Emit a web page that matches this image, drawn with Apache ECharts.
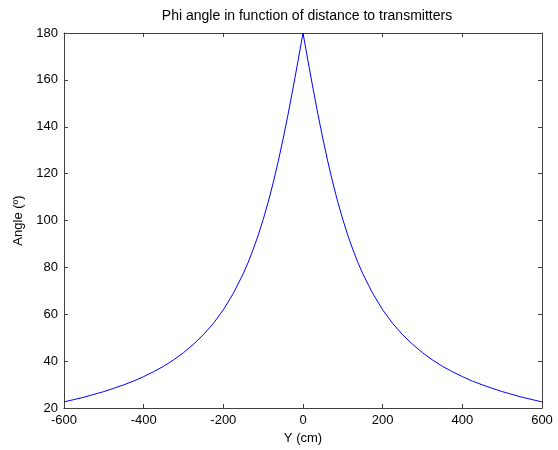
<!DOCTYPE html>
<html>
<head>
<meta charset="utf-8">
<script src="https://cdn.jsdelivr.net/npm/echarts@6/dist/echarts.min.js"></script>
<style>
  html, body { margin: 0; padding: 0; background: #fff; }
  #chart { width: 558px; height: 450px; }
</style>
</head>
<body>
<div id="chart"></div>
<script>
// distance to transmitters (cm) and phi angle (deg)
const distances = [
  -600, -575, -550, -525, -500, -475, -450, -425, -400, -375, -350, -325, -300,
  -275, -250, -225, -200, -175, -150, -137.5, -125, -112.5, -100, -87.5, -75,
  -62.5, -50, -37.5, -25, -12.5, 0, 12.5, 25, 37.5, 50, 62.5, 75, 87.5, 100,
  112.5, 125, 137.5, 150, 175, 200, 225, 250, 275, 300, 325, 350, 375, 400,
  425, 450, 475, 500, 525, 550, 575, 600
]
const angles = [
  22.6, 23.6, 24.6, 25.8, 27.0, 28.4, 29.9, 31.5, 33.4, 35.5, 37.8, 40.5, 43.6,
  47.2, 51.3, 56.1, 61.9, 68.9, 77.3, 82.2, 87.7, 93.7, 100.4, 107.8, 116.0,
  125.0, 134.8, 145.3, 156.5, 168.1, 180, 168.1, 156.5, 145.3, 134.8, 125.0, 116.0, 107.8, 100.4,
  93.7, 87.7, 82.2, 77.3, 68.9, 61.9, 56.1, 51.3, 47.2, 43.6, 40.5, 37.8, 35.5, 33.4,
  31.5, 29.9, 28.4, 27.0, 25.8, 24.6, 23.6, 22.6
]

const chart = echarts.init(document.getElementById('chart'))

const font = 'Arial, "Liberation Sans", sans-serif'
const axisColor = '#404040'

const frameAxis = {
  axisLine: { show: true, onZero: false, lineStyle: { color: axisColor, width: 1 } },
  axisTick: { show: true, inside: true, length: 4, lineStyle: { color: axisColor } },
  splitLine: { show: false }
}

chart.setOption({
  animation: false,
  title: {
    text: 'Phi angle in function of distance to transmitters',
    left: 302,
    top: 4,
    textAlign: 'center',
    textStyle: { fontFamily: font, fontSize: 14, fontWeight: 'normal', color: '#000' }
  },
  grid: { left: 64, right: 16, top: 33, bottom: 40 },
  xAxis: [
    {
      type: 'value', min: -600, max: 600, interval: 200,
      name: 'Y (cm)', nameLocation: 'middle', nameGap: 24,
      nameTextStyle: { fontFamily: font, fontSize: 13, color: '#000' },
      axisLabel: { fontFamily: font, fontSize: 13, color: '#000', margin: 6 },
      ...frameAxis
    },
    {
      type: 'value', position: 'top', min: -600, max: 600, interval: 200,
      axisLabel: { show: false },
      ...frameAxis
    }
  ],
  yAxis: [
    {
      type: 'value', min: 20, max: 180, interval: 20,
      name: 'Angle (º)', nameLocation: 'middle', nameGap: 38,
      nameTextStyle: { fontFamily: font, fontSize: 13, color: '#000' },
      axisLabel: { fontFamily: font, fontSize: 13, color: '#000', margin: 6 },
      ...frameAxis
    },
    {
      type: 'value', position: 'right', min: 20, max: 180, interval: 20,
      axisLabel: { show: false },
      ...frameAxis
    }
  ],
  series: [
    {
      type: 'line',
      data: distances.map((d, i) => [d, angles[i]]),
      showSymbol: false,
      smooth: false,
      lineStyle: { color: '#0000ff', width: 1 },
      itemStyle: { color: '#0000ff' }
    }
  ]
})
</script>
</body>
</html>
